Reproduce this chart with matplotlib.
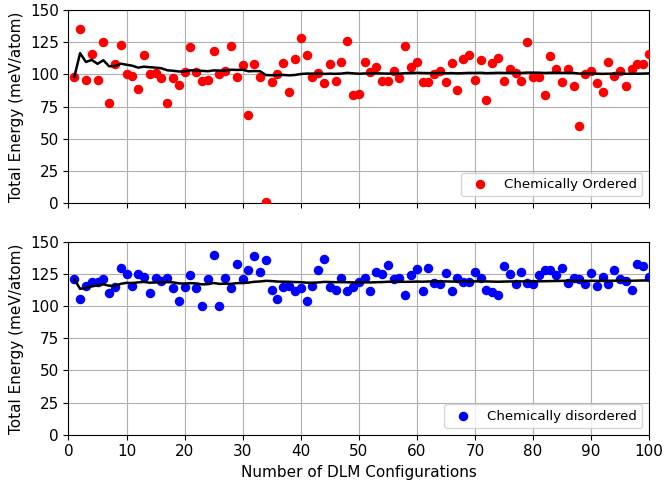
import numpy as np
import matplotlib
matplotlib.use('Agg')
import matplotlib.pyplot as plt

# configuration index
configs = np.arange(1, 101)

# chemically ordered energies (meV/atom)
ordered_energy = [
    98, 135, 96, 116, 96, 125, 78, 108, 123, 100,
    99, 89, 115, 100, 101, 97, 78, 97, 92, 102,
    121, 102, 95, 96, 118, 100, 103, 122, 98, 107,
    68, 108, 98, 0.5, 94, 100, 109, 86, 112, 128,
    115, 98, 101, 93, 108, 95, 110, 126, 84, 85,
    110, 102, 106, 95, 95, 103, 97, 122, 106, 110,
    94, 94, 100, 103, 94, 109, 88, 112, 115, 96,
    111, 80, 109, 113, 95, 104, 101, 95, 125, 98,
    98, 84, 114, 104, 94, 104, 91, 60, 100, 103,
    93, 86, 110, 99, 103, 91, 104, 108, 108, 116,
]

# chemically disordered energies (meV/atom)
disordered_energy = [
    121, 106, 116, 119, 119, 121, 110, 115, 130, 125,
    116, 125, 123, 110, 122, 120, 122, 114, 104, 115,
    124, 114, 100, 121, 140, 100, 122, 114, 133, 121,
    128, 139, 127, 136, 113, 106, 115, 116, 112, 114,
    104, 116, 128, 137, 115, 113, 122, 112, 115, 119,
    122, 112, 127, 125, 132, 121, 122, 109, 124, 129,
    112, 130, 118, 117, 126, 112, 122, 119, 119, 127,
    122, 113, 111, 109, 131, 125, 117, 127, 118, 117,
    124, 128, 128, 124, 130, 118, 122, 121, 117, 126,
    116, 123, 117, 128, 121, 120, 113, 133, 131, 123,
]


def running_mean(values):
    values = np.asarray(values, dtype=float)
    return np.cumsum(values) / np.arange(1, len(values) + 1)


fig = plt.figure(figsize=(6.65, 4.83), dpi=100)
ax1 = fig.add_axes([0.103, 0.580, 0.873, 0.399])
ax2 = fig.add_axes([0.103, 0.100, 0.873, 0.399])

panels = [
    (ax1, ordered_energy, 'red', 'Chemically Ordered'),
    (ax2, disordered_energy, 'blue', 'Chemically disordered'),
]

for ax, energy, color, label in panels:
    ax.scatter(configs, energy, s=34, color=color, label=label, zorder=3)
    ax.plot(configs, running_mean(energy), color='black', lw=1.8, zorder=4)
    ax.set_xlim(0, 100)
    ax.set_ylim(0, 150)
    ax.set_yticks([0, 25, 50, 75, 100, 125, 150])
    ax.set_xticks(np.arange(0, 101, 10))
    ax.grid(True, color='#b0b0b0', lw=0.8)
    ax.set_axisbelow(True)
    ax.set_ylabel('Total Energy (meV/atom)', fontsize=11)
    ax.tick_params(labelsize=11)
    ax.legend(loc='lower right', fontsize=9.6)

ax1.set_xticklabels([])
ax2.set_xlabel('Number of DLM Configurations', fontsize=11)

fig.savefig('out.png', dpi=100)
